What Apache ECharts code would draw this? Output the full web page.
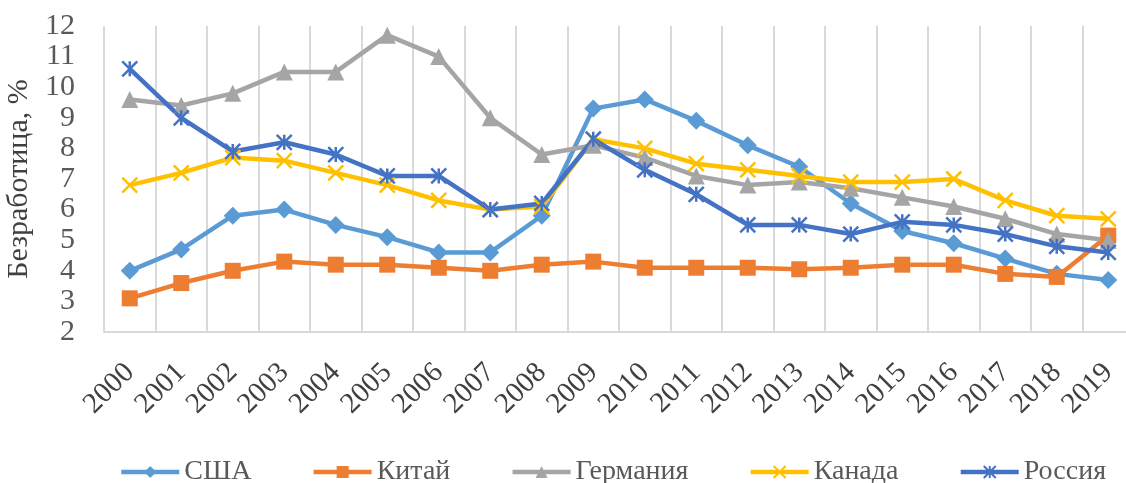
<!DOCTYPE html>
<html><head><meta charset="utf-8">
<script src="https://cdn.jsdelivr.net/npm/echarts@6/dist/echarts.min.js"></script>
<style>html,body{margin:0;padding:0;background:#fff}#c{width:1126px;height:483px}</style>
</head><body><div id="c"></div>
<script>
const years = ['2000','2001','2002','2003','2004','2005','2006','2007','2008','2009','2010','2011','2012','2013','2014','2015','2016','2017','2018','2019'];
const usa     = [4.0,4.7,5.8,6.0,5.5,5.1,4.6,4.6,5.8,9.3,9.6,8.9,8.1,7.4,6.2,5.3,4.9,4.4,3.9,3.7];
const china   = [3.1,3.6,4.0,4.3,4.2,4.2,4.1,4.0,4.2,4.3,4.1,4.1,4.1,4.05,4.1,4.2,4.2,3.9,3.8,5.15];
const germany = [9.6,9.4,9.8,10.5,10.5,11.7,11.0,9.0,7.8,8.1,7.7,7.1,6.8,6.9,6.7,6.4,6.1,5.7,5.2,5.0];
const canada  = [6.8,7.2,7.7,7.6,7.2,6.8,6.3,6.0,6.1,8.3,8.0,7.5,7.3,7.1,6.9,6.9,7.0,6.3,5.8,5.7];
const russia  = [10.6,9.0,7.9,8.2,7.8,7.1,7.1,6.0,6.2,8.3,7.3,6.5,5.5,5.5,5.2,5.6,5.5,5.2,4.8,4.6];
const names = ['США','Китай','Германия','Канада','Россия'];
const yTitle = 'Безработица, %';

const font = "'Liberation Serif','Times New Roman',serif";
const chart = echarts.init(document.getElementById('c'));
function mk(name, data, color, symbol, size, stroke) {
  return {
    name, type: 'line', data, symbol, symbolSize: size,
    lineStyle: {color, width: 4.5},
    itemStyle: {color, borderColor: color, borderWidth: stroke ? 2.5 : 0},
    emphasis: {disabled: true}
  };
}
chart.setOption({
  animation: false,
  grid: {left: 104, right: -8, top: 26, bottom: 151, containLabel: false, outerBoundsMode: 'none'},
  legend: {
    bottom: -8, left: 114, itemGap: 60, itemWidth: 58, itemHeight: 15,
    lineStyle: {width: 4.5},
    textStyle: {fontFamily: font, fontSize: 28, color: '#595959'},
    data: names
  },
  xAxis: {
    type: 'category', data: years, boundaryGap: true,
    axisLine: {lineStyle: {color: '#d9d9d9', width: 2}},
    axisTick: {show: false},
    splitLine: {show: true, lineStyle: {color: '#d9d9d9', width: 2}},
    axisLabel: {rotate: 45, margin: 36, fontFamily: font, fontSize: 29, color: '#404040', interval: 0}
  },
  yAxis: {
    type: 'value', min: 2, max: 12, interval: 1,
    name: yTitle, nameLocation: 'middle', nameGap: 63,
    nameTextStyle: {fontFamily: font, fontSize: 30, color: '#404040'},
    axisLine: {show: false}, axisTick: {show: false}, splitLine: {show: false},
    axisLabel: {fontFamily: font, fontSize: 30, color: '#595959', margin: 29,
                showMinLabel: true, showMaxLabel: true, hideOverlap: false}
  },
  series: [
    mk(names[0], usa, '#5b9bd5', 'diamond', 18, false),
    mk(names[1], china, '#ed7d31', 'rect', 16, false),
    mk(names[2], germany, '#a5a5a5', 'triangle', 17, false),
    mk(names[3], canada, '#ffc000', 'path://M0,0L10,10M10,0L0,10', 15, true),
    mk(names[4], russia, '#4472c4', 'path://M5,0L5,10M0,0L10,10M10,0L0,10', 15, true)
  ]
});
</script></body></html>
